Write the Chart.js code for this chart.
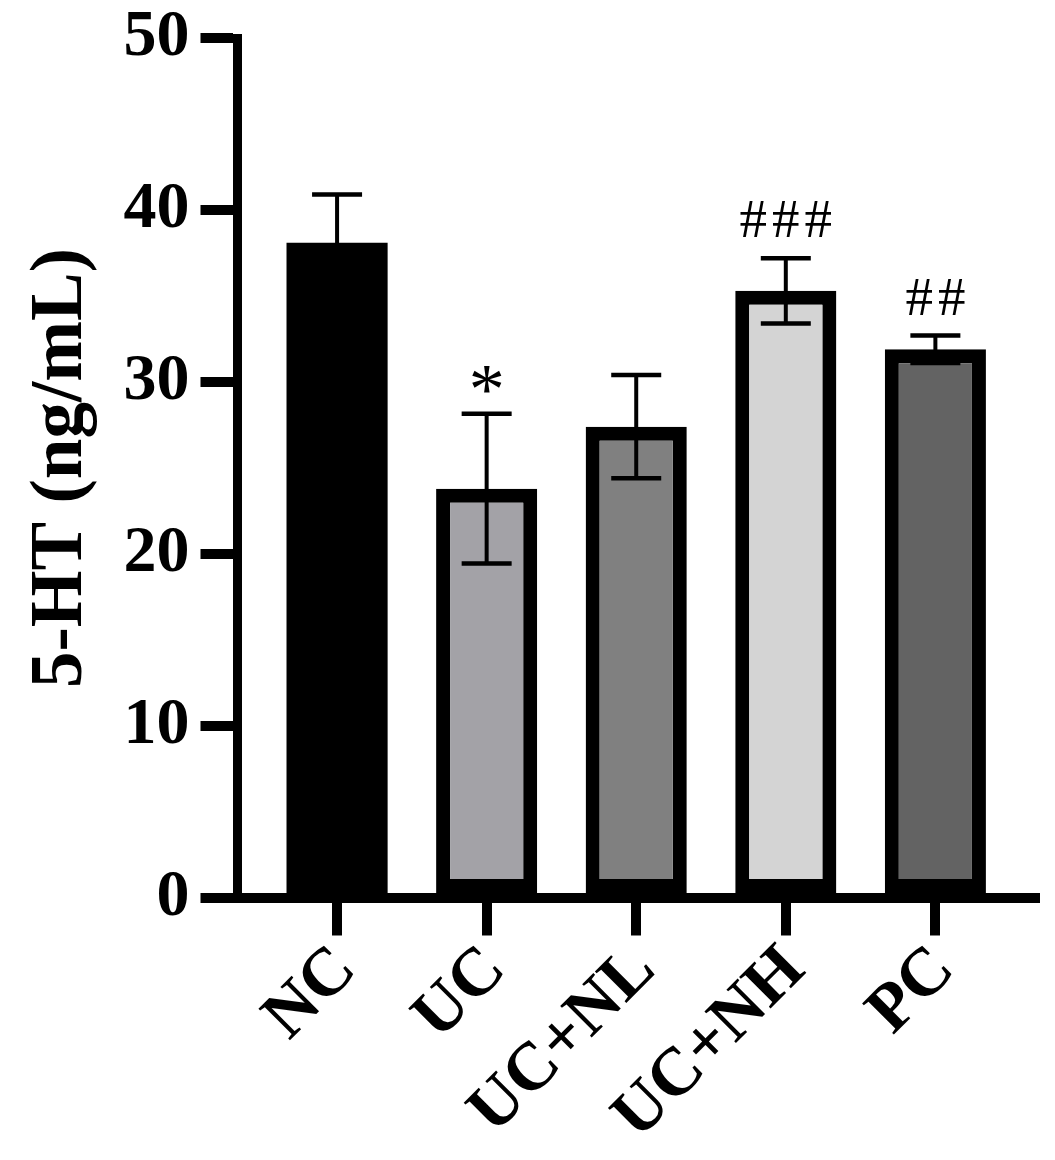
<!DOCTYPE html>
<html>
<head>
<meta charset="utf-8">
<script src="https://cdn.jsdelivr.net/npm/chart.js@4.4.0/dist/chart.umd.min.js"></script>
<style>
  html, body { margin: 0; padding: 0; background: #fff; }
  #wrap { width: 1055px; height: 1160px; }
</style>
</head>
<body>
<div id="wrap"><canvas id="chart" width="1055" height="1160"></canvas></div>
<script>
// --- DATA ---
const categories = ['NC', 'UC', 'UC+NL', 'UC+NH', 'PC'];
const means = [38.1, 23.8, 27.4, 35.3, 31.9];
const sds = [2.8, 4.35, 3.0, 1.9, 0.8];
const marks = ['', '*', '', '###', '##'];
const fills = ['#000000', '#a3a2a7', '#808080', '#d4d4d4', '#636363'];
const yTicks = [0, 10, 20, 30, 40, 50];
const yTitle = '5-HT (ng/mL)';

const FONT = "'Liberation Serif', 'Times New Roman', serif";

// --- error bars + significance marks ---
const errorBars = {
    id: 'errorBars',
    afterDatasetsDraw(chart) {
        const { ctx, scales: { x, y } } = chart;
        ctx.save();
        ctx.strokeStyle = '#000';
        ctx.fillStyle = '#000';
        means.forEach((m, i) => {
            const px = x.getPixelForValue(i);
            const hi = y.getPixelForValue(m + sds[i]);
            const lo = y.getPixelForValue(m - sds[i]);
            ctx.lineWidth = 4;
            ctx.beginPath();
            ctx.moveTo(px, lo);
            ctx.lineTo(px, hi);
            ctx.stroke();
            ctx.lineWidth = 4.5;
            ctx.beginPath();
            ctx.moveTo(px - 25, hi);
            ctx.lineTo(px + 25, hi);
            ctx.moveTo(px - 25, lo);
            ctx.lineTo(px + 25, lo);
            ctx.stroke();

            if (marks[i]) {
                const hash = marks[i][0] === '#';
                ctx.font = `normal ${hash ? 55 : 72}px ${FONT}`;
                ctx.letterSpacing = hash ? '5px' : '0px';
                ctx.textAlign = 'center';
                ctx.textBaseline = 'alphabetic';
                const tm = ctx.measureText(marks[i]);
                ctx.fillText(marks[i], px + (hash ? 2.5 : 0), hi - 21 - tm.actualBoundingBoxDescent);
            }
        });
        ctx.restore();
    }
};

new Chart(document.getElementById('chart'), {
    type: 'bar',
    data: {
        datasets: [{
            data: means.map((v, i) => ({ x: i, y: v })),
            backgroundColor: fills,
            borderColor: '#000',
            borderWidth: fills.map(c => (c === '#000000' ? 0 : 14)),
            borderSkipped: false,
            categoryPercentage: 1,
            barPercentage: 0.676
        }]
    },
    options: {
        responsive: false,
        animation: false,
        devicePixelRatio: 1,
        layout: { padding: { top: 38, right: 20, left: 0, bottom: 0 } },
        plugins: { legend: { display: false }, tooltip: { enabled: false } },
        scales: {
            x: {
                type: 'linear',
                min: -0.669,
                max: 4.666,
                offset: false,
                afterFit: s => { s.height = 262; },
                ticks: {
                    stepSize: 1,
                    includeBounds: false,
                    autoSkip: false,
                    minRotation: 45,
                    maxRotation: 45,
                    padding: -5,
                    labelOffset: 9,
                    color: '#000',
                    font: { family: FONT, size: 68, weight: 'bold' },
                    callback: v => categories[v] ?? ''
                },
                grid: { offset: false, drawOnChartArea: false, drawTicks: true, tickLength: 37.5, lineWidth: 10, color: '#000' },
                border: { display: true, width: 10, color: '#000' }
            },
            y: {
                min: 0,
                max: 50,
                afterFit: s => { s.width = 237; },
                afterBuildTicks: s => { s.ticks = yTicks.map(v => ({ value: v })); },
                ticks: {
                    padding: 11,
                    color: '#000',
                    font: { family: FONT, size: 66, weight: 'bold', lineHeight: 0.8 }
                },
                grid: { drawOnChartArea: false, drawTicks: true, tickLength: 36.5, lineWidth: 10, color: '#000' },
                border: { display: true, width: 9, color: '#000' },
                title: {
                    display: true,
                    text: yTitle,
                    color: '#000',
                    padding: { top: 18, bottom: 0 },
                    font: { family: FONT, size: 73, weight: 'bold' }
                }
            }
        }
    },
    plugins: [errorBars]
});
</script>
</body>
</html>
